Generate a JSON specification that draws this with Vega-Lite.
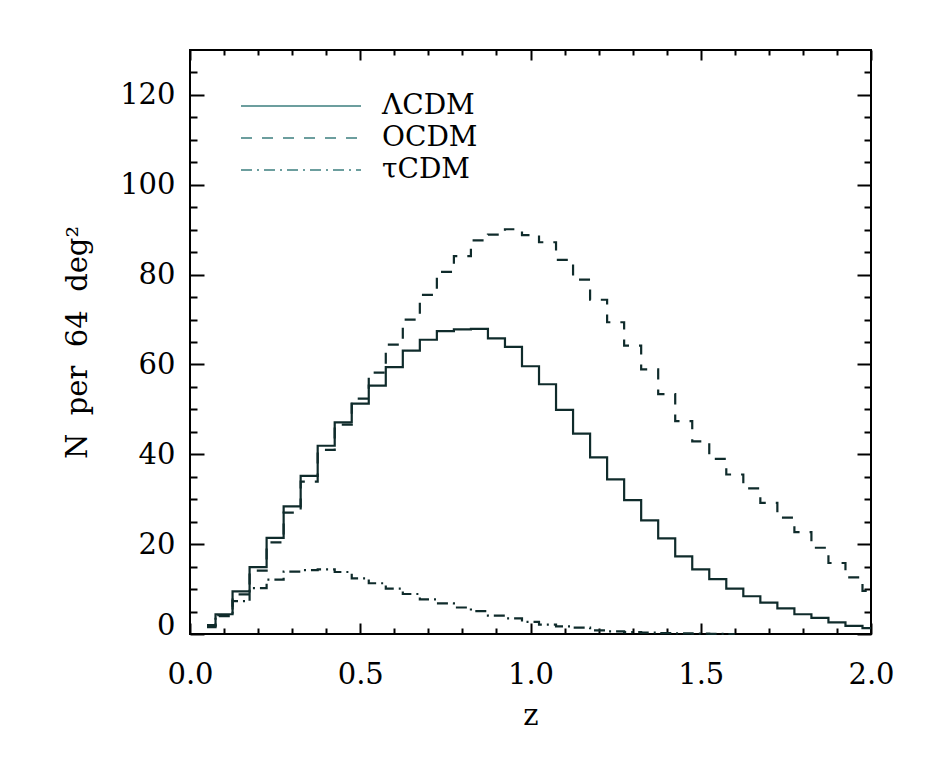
{
  "$schema": "https://vega.github.io/schema/vega-lite/v6.json",
  "width": 681,
  "height": 584,
  "autosize": {"type": "none"},
  "padding": {"left": 190, "top": 50, "right": 55, "bottom": 136},
  "background": "white",
  "config": {
    "view": {"stroke": "#000", "strokeWidth": 2},
    "font": "DejaVu Serif",
    "axis": {
      "grid": false, "domain": false, "tickColor": "#000", "tickWidth": 2,
      "labelColor": "#000", "titleColor": "#000",
      "labelFont": "DejaVu Serif", "titleFont": "DejaVu Serif",
      "labelFontSize": 29, "titleFontSize": 29, "titleFontWeight": "normal",
      "labelFlush": false, "labelOverlap": false
    }
  },
  "data": {"values": [
    {"z":0.05,"model":"ΛCDM","N":2.0},{"z":0.10,"model":"ΛCDM","N":4.4},{"z":0.15,"model":"ΛCDM","N":9.5},{"z":0.20,"model":"ΛCDM","N":14.9},
    {"z":0.25,"model":"ΛCDM","N":21.4},{"z":0.30,"model":"ΛCDM","N":28.4},{"z":0.35,"model":"ΛCDM","N":35.2},{"z":0.40,"model":"ΛCDM","N":41.9},
    {"z":0.45,"model":"ΛCDM","N":47.1},{"z":0.50,"model":"ΛCDM","N":51.3},{"z":0.55,"model":"ΛCDM","N":55.3},{"z":0.60,"model":"ΛCDM","N":59.4},
    {"z":0.65,"model":"ΛCDM","N":63.1},{"z":0.70,"model":"ΛCDM","N":65.5},{"z":0.75,"model":"ΛCDM","N":67.4},{"z":0.80,"model":"ΛCDM","N":67.8},
    {"z":0.85,"model":"ΛCDM","N":67.9},{"z":0.90,"model":"ΛCDM","N":65.8},{"z":0.95,"model":"ΛCDM","N":63.9},{"z":1.00,"model":"ΛCDM","N":59.6},
    {"z":1.05,"model":"ΛCDM","N":55.6},{"z":1.10,"model":"ΛCDM","N":49.9},{"z":1.15,"model":"ΛCDM","N":44.6},{"z":1.20,"model":"ΛCDM","N":39.3},
    {"z":1.25,"model":"ΛCDM","N":34.4},{"z":1.30,"model":"ΛCDM","N":29.8},{"z":1.35,"model":"ΛCDM","N":25.3},{"z":1.40,"model":"ΛCDM","N":21.3},
    {"z":1.45,"model":"ΛCDM","N":17.3},{"z":1.50,"model":"ΛCDM","N":14.4},{"z":1.55,"model":"ΛCDM","N":12.2},{"z":1.60,"model":"ΛCDM","N":10.1},
    {"z":1.65,"model":"ΛCDM","N":8.4},{"z":1.70,"model":"ΛCDM","N":7.0},{"z":1.75,"model":"ΛCDM","N":5.7},{"z":1.80,"model":"ΛCDM","N":4.4},
    {"z":1.85,"model":"ΛCDM","N":3.6},{"z":1.90,"model":"ΛCDM","N":2.6},{"z":1.95,"model":"ΛCDM","N":1.8},{"z":2.00,"model":"ΛCDM","N":1.3},

    {"z":0.05,"model":"OCDM","N":1.8},{"z":0.10,"model":"OCDM","N":4.2},{"z":0.15,"model":"OCDM","N":8.8},{"z":0.20,"model":"OCDM","N":14.1},
    {"z":0.25,"model":"OCDM","N":20.4},{"z":0.30,"model":"OCDM","N":27.0},{"z":0.35,"model":"OCDM","N":33.9},{"z":0.40,"model":"OCDM","N":41.0},
    {"z":0.45,"model":"OCDM","N":46.6},{"z":0.50,"model":"OCDM","N":52.4},{"z":0.55,"model":"OCDM","N":58.2},{"z":0.60,"model":"OCDM","N":64.4},
    {"z":0.65,"model":"OCDM","N":70.0},{"z":0.70,"model":"OCDM","N":75.5},{"z":0.75,"model":"OCDM","N":80.6},{"z":0.80,"model":"OCDM","N":84.1},
    {"z":0.85,"model":"OCDM","N":87.6},{"z":0.90,"model":"OCDM","N":88.9},{"z":0.95,"model":"OCDM","N":90.1},{"z":1.00,"model":"OCDM","N":88.8},
    {"z":1.05,"model":"OCDM","N":87.2},{"z":1.10,"model":"OCDM","N":83.3},{"z":1.15,"model":"OCDM","N":78.9},{"z":1.20,"model":"OCDM","N":74.4},
    {"z":1.25,"model":"OCDM","N":69.4},{"z":1.30,"model":"OCDM","N":64.2},{"z":1.35,"model":"OCDM","N":58.9},{"z":1.40,"model":"OCDM","N":53.4},
    {"z":1.45,"model":"OCDM","N":47.4},{"z":1.50,"model":"OCDM","N":42.9},{"z":1.55,"model":"OCDM","N":39.0},{"z":1.60,"model":"OCDM","N":35.5},
    {"z":1.65,"model":"OCDM","N":32.4},{"z":1.70,"model":"OCDM","N":29.2},{"z":1.75,"model":"OCDM","N":25.9},{"z":1.80,"model":"OCDM","N":22.7},
    {"z":1.85,"model":"OCDM","N":19.2},{"z":1.90,"model":"OCDM","N":15.8},{"z":1.95,"model":"OCDM","N":12.6},{"z":2.00,"model":"OCDM","N":9.6},

    {"z":0.05,"model":"τCDM","N":1.5},{"z":0.10,"model":"τCDM","N":4.0},{"z":0.15,"model":"τCDM","N":7.3},{"z":0.20,"model":"τCDM","N":10.2},
    {"z":0.25,"model":"τCDM","N":12.1},{"z":0.30,"model":"τCDM","N":13.9},{"z":0.35,"model":"τCDM","N":14.2},{"z":0.40,"model":"τCDM","N":14.4},
    {"z":0.45,"model":"τCDM","N":13.8},{"z":0.50,"model":"τCDM","N":12.4},{"z":0.55,"model":"τCDM","N":11.3},{"z":0.60,"model":"τCDM","N":10.1},
    {"z":0.65,"model":"τCDM","N":8.9},{"z":0.70,"model":"τCDM","N":7.7},{"z":0.75,"model":"τCDM","N":6.8},{"z":0.80,"model":"τCDM","N":5.9},
    {"z":0.85,"model":"τCDM","N":5.1},{"z":0.90,"model":"τCDM","N":4.1},{"z":0.95,"model":"τCDM","N":3.5},{"z":1.00,"model":"τCDM","N":2.7},
    {"z":1.05,"model":"τCDM","N":2.1},{"z":1.10,"model":"τCDM","N":1.7},{"z":1.15,"model":"τCDM","N":1.4},{"z":1.20,"model":"τCDM","N":0.8},
    {"z":1.25,"model":"τCDM","N":0.6},{"z":1.30,"model":"τCDM","N":0.4},{"z":1.35,"model":"τCDM","N":0.3},{"z":1.40,"model":"τCDM","N":0.2},
    {"z":1.45,"model":"τCDM","N":0.15},{"z":1.50,"model":"τCDM","N":0.1},{"z":1.55,"model":"τCDM","N":0.05},{"z":1.60,"model":"τCDM","N":0.0}
  ]},
  "layer": [
    {
      "mark": {"type": "line", "interpolate": "step", "color": "#0f2b2b", "strokeWidth": 2.2},
      "encoding": {
        "x": {"field": "z", "type": "quantitative",
          "scale": {"domain": [0, 2], "nice": false, "zero": false},
          "axis": {"orient": "bottom", "values": [0, 0.5, 1, 1.5, 2], "format": ".1f",
            "tickSize": -11, "labelPadding": 37, "title": "z", "titlePadding": 12}},
        "y": {"field": "N", "type": "quantitative",
          "scale": {"domain": [0, 130], "nice": false},
          "axis": {"orient": "left", "values": [0, 20, 40, 60, 80, 100, 120],
            "tickSize": -14, "labelPadding": 29,
            "labelBaseline": {"condition": {"test": "datum.value === 0", "value": "alphabetic"}, "value": "middle"},
            "title": "N\u00a0\u00a0per\u00a0\u00a064\u00a0\u00a0deg²", "titlePadding": 27}},
        "strokeDash": {"field": "model", "type": "nominal",
          "scale": {"domain": ["ΛCDM", "OCDM", "τCDM"], "range": [[1, 0], [11, 10], [11, 5, 2, 5]]},
          "legend": {"orient": "none", "legendX": 50, "legendY": 42, "title": null,
            "symbolType": "stroke", "symbolSize": 14400, "symbolStrokeWidth": 1.5,
            "symbolStrokeColor": "#3d7f7f", "clipHeight": 28, "rowPadding": 4,
            "labelOffset": 20, "labelFont": "DejaVu Serif", "labelFontSize": 28,
            "labelColor": "#000", "padding": 0}}
      }
    },
    {
      "mark": {"type": "line", "strokeOpacity": 0},
      "encoding": {
        "x": {"field": "z", "type": "quantitative",
          "scale": {"domain": [0, 2], "nice": false, "zero": false},
          "axis": {"orient": "bottom", "values": [0.1,0.2,0.3,0.4,0.6,0.7,0.8,0.9,1.1,1.2,1.3,1.4,1.6,1.7,1.8,1.9],
            "tickSize": -6, "labels": false, "title": null}},
        "y": {"field": "N", "type": "quantitative",
          "scale": {"domain": [0, 130], "nice": false},
          "axis": {"orient": "left", "values": [5,10,15,25,30,35,45,50,55,65,70,75,85,90,95,105,110,115,125],
            "tickSize": -7, "labels": false, "title": null}}
      }
    },
    {
      "mark": {"type": "line", "strokeOpacity": 0},
      "encoding": {
        "x": {"field": "z", "type": "quantitative",
          "scale": {"domain": [0, 2], "nice": false, "zero": false},
          "axis": {"orient": "top", "values": [0, 0.5, 1, 1.5, 2],
            "tickSize": -10, "labels": false, "title": null}},
        "y": {"field": "N", "type": "quantitative",
          "scale": {"domain": [0, 130], "nice": false},
          "axis": {"orient": "right", "values": [0, 20, 40, 60, 80, 100, 120],
            "tickSize": -14, "labels": false, "title": null}}
      }
    },
    {
      "mark": {"type": "line", "strokeOpacity": 0},
      "encoding": {
        "x": {"field": "z", "type": "quantitative",
          "scale": {"domain": [0, 2], "nice": false, "zero": false},
          "axis": {"orient": "top", "values": [0.1,0.2,0.3,0.4,0.6,0.7,0.8,0.9,1.1,1.2,1.3,1.4,1.6,1.7,1.8,1.9],
            "tickSize": -5, "labels": false, "title": null}},
        "y": {"field": "N", "type": "quantitative",
          "scale": {"domain": [0, 130], "nice": false},
          "axis": {"orient": "right", "values": [5,10,15,25,30,35,45,50,55,65,70,75,85,90,95,105,110,115,125],
            "tickSize": -7, "labels": false, "title": null}}
      }
    }
  ],
  "resolve": {"axis": {"x": "independent", "y": "independent"}}
}
